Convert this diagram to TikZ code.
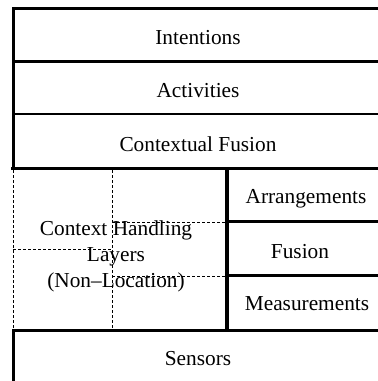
\documentclass[tikz,border=0pt]{standalone}
\usepackage{fontspec}
\setmainfont{Liberation Serif}
\newfontfamily\layerfont[Ligatures=TeX]{Liberation Serif}
\begin{document}
\begin{tikzpicture}[x=1bp,y=-1bp,
  heavy/.style={line width=3.4bp,line cap=rect},
  rule/.style={line width=2.6bp},
  grid/.style={line width=0.9bp,dash pattern=on 3bp off 2bp},
  label/.style={inner sep=0pt,font=\layerfont\fontsize{21.4}{26}\selectfont,align=center}]
\useasboundingbox (0,0) rectangle (378,381);
\begin{scope}
\clip (0,0) rectangle (378,381);
% dashed grid of the context handling block
\draw[grid] (13,170) -- (13,329);
\draw[grid] (112,170) -- (112,329);
\draw[grid] (112,222) -- (228,222);
\draw[grid] (112,276) -- (228,276);
\draw[grid] (13,249) -- (112,249);
% outer frame and row rules
\draw[heavy] (13.5,167) -- (13.5,8.5) -- (380,8.5);
\draw[rule] (13,61.5) -- (380,61.5);
\draw[rule] (13,114) -- (380,114);
\draw[heavy] (13,168.5) -- (380,168.5);
\draw[heavy] (227,168.5) -- (227,330);
\draw[rule] (227,221.5) -- (380,221.5);
\draw[rule] (227,275.5) -- (380,275.5);
\draw[heavy] (13.5,384) -- (13.5,330.5) -- (380,330.5);
\end{scope}
% layer labels
\node[label] (intentions) at (198,38) {Intentions};
\node[label] (activities) at (198,91) {Activities};
\node[label] (contextual) at (198,144) {Contextual Fusion};
\node[label] (arrangements) at (306,199) {Arrangements};
\node[label] (fusion) at (300,252) {Fusion};
\node[label] (measurements) at (307,304) {Measurements};
\node[label] (handling) at (116,256) {Context Handling\\Layers\\(Non–Location)};
\node[label] (sensors) at (198,359) {Sensors};
\end{tikzpicture}
\end{document}
